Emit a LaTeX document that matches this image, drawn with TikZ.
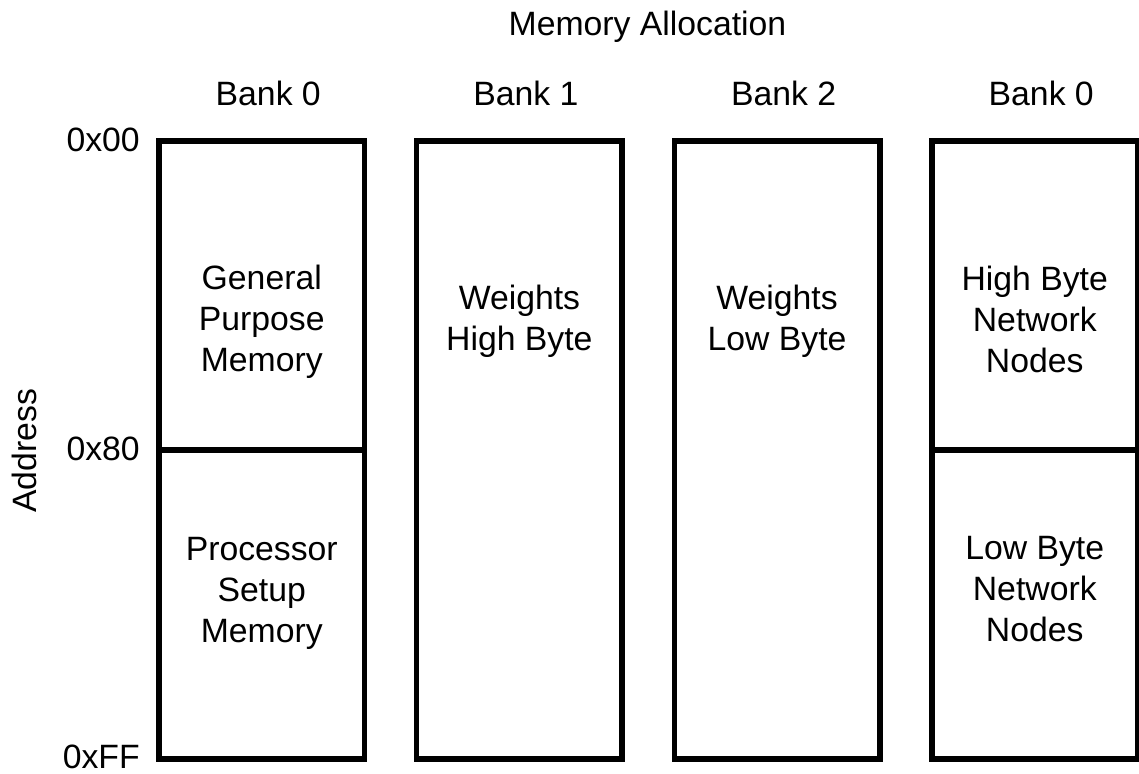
\documentclass[tikz,border=0pt]{standalone}
\usepackage{fontspec}
\setmainfont{Liberation Sans}
\tikzset{
    bankbox/.style={draw, black, line width=3.9pt, minimum width=5.1375cm,
        minimum height=15.45cm, inner sep=0pt, outer sep=0pt},
    lbl/.style={inner sep=0pt, font=\fontsize{24}{29.2}\selectfont},
    cell/.style={lbl, align=center},
}
\begin{document}
\begin{tikzpicture}[x=0.025cm, y=-0.025cm]
    \useasboundingbox (0,0) rectangle (1139,774);
    % title and axis
    \node[lbl, anchor=base] (title) at (647.5,36) {Memory Allocation};
    \node[lbl, rotate=90] (addr) at (24.5,451) {Address};
    \node[lbl, anchor=base east] (a00) at (140,152) {0x00};
    \node[lbl, anchor=base east] (a80) at (140,460) {0x80};
    \node[lbl, anchor=base east] (aff) at (140,768) {0xFF};
    % banks
    \foreach \i/\x/\t in {0/261.75/0, 1/519.4/1, 2/777.1/2, 3/1034.75/0} {
        \node[bankbox] (b\i) at (\x,450) {};
        \node[lbl, anchor=base] (h\i) at (\x+6.5,106) {Bank \t};
    }
    \draw[line width=3.9pt] (b0.west) -- (b0.east);
    \draw[line width=3.9pt] (b3.west) -- (b3.east);
    % contents
    \node[cell] (gpm) at (261.75,322) {General\\Purpose\\Memory};
    \node[cell] (psm) at (261.75,593) {Processor\\Setup\\Memory};
    \node[cell] (whb) at (519.4,321.5) {Weights\\High Byte};
    \node[cell] (wlb) at (777.1,321.5) {Weights\\Low Byte};
    \node[cell] (hbn) at (1034.75,319) {High Byte\\Network\\Nodes};
    \node[cell] (lbn) at (1034.75,589) {Low Byte\\Network\\Nodes};
\end{tikzpicture}
\end{document}
